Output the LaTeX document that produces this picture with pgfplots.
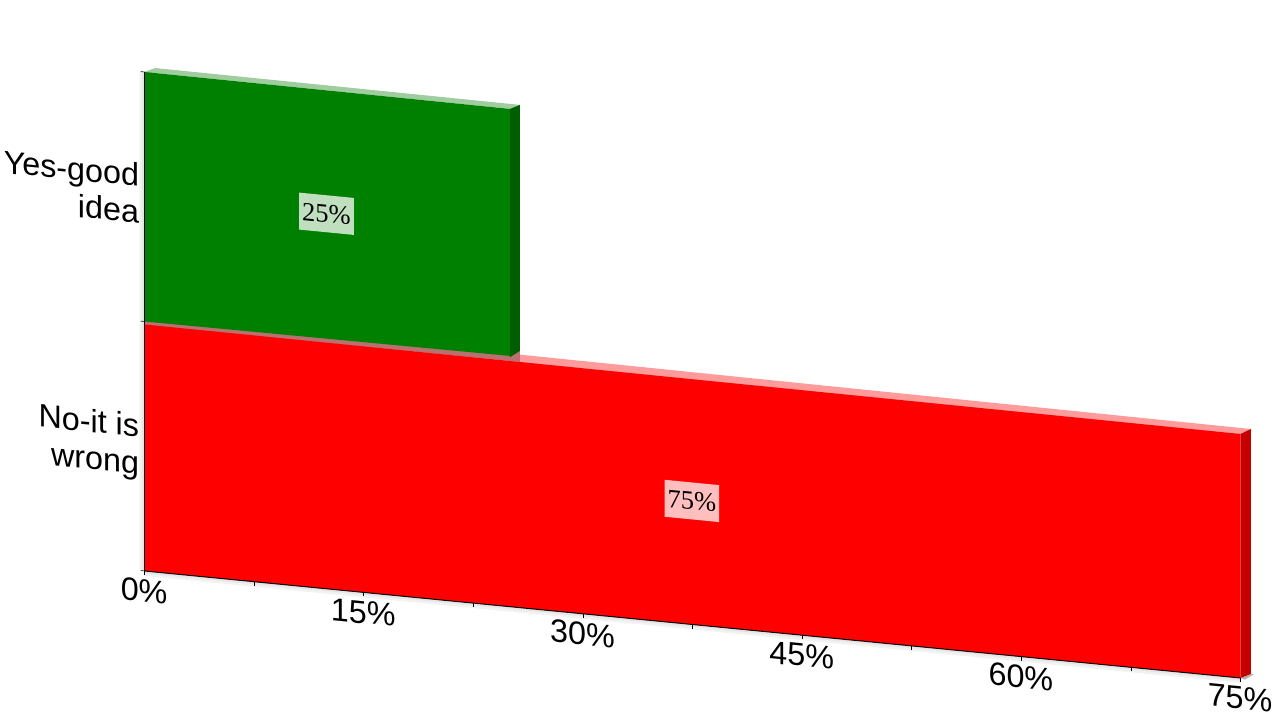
\documentclass[border=0pt]{standalone}
\usepackage{fontspec}
\setmainfont{Liberation Sans}
\newfontfamily\serifl{Liberation Serif}
\usepackage{pgfplots}
\pgfplotsset{compat=1.18}
\definecolor{gfront}{RGB}{0,128,0}
\definecolor{gside}{RGB}{0,94,0}
\definecolor{gtop}{RGB}{160,205,160}
\definecolor{rfront}{RGB}{255,0,0}
\definecolor{rside}{RGB}{196,0,0}
\definecolor{rtop}{RGB}{255,155,155}
\newsavebox\shearbox
\newcommand\shear[1]{\sbox\shearbox{#1}\hbox to \wd\shearbox{\hskip.5\wd\shearbox\special{pdf:btrans matrix 1 -0.0976 0 1 0 0}\hskip-.5\wd\shearbox\usebox\shearbox\special{pdf:etrans}}}
\newcommand\tworows[2]{\begin{tabular}[c]{@{}r@{}}#1\\#2\end{tabular}}
\begin{document}
\begin{tikzpicture}
\path[use as bounding box] (0,0) rectangle (1280pt,720pt);
\begin{axis}[
  at={(144.6pt,149pt)}, anchor=origin,
  x={(14.613pt,-1.4267pt)}, y={(0pt,249.5pt)},
  xmin=0, xmax=75, ymin=0, ymax=2,
  clip=false, axis lines*=left,
  axis line style={black, line width=1pt},
  tick style={black, line width=0.6pt},
  tick align=outside, major tick length=4pt, minor tick length=4pt,
  xtick={0,15,30,45,60,75},
  xticklabels={\shear{0\%},\shear{15\%},\shear{30\%},\shear{45\%},\shear{60\%},\shear{75\%}},
  minor xtick={7.5,22.5,37.5,52.5,67.5},
  ytick={0,1,2}, yticklabels={},
  extra y ticks={0.513,1.524},
  extra y tick labels={{\shear{\tworows{No-it is}{wrong}}},{\shear{\tworows{Yes-good}{idea}}}},
  extra y tick style={major tick length=0pt},
  every tick label/.append style={font=\fontsize{32.3}{37}\selectfont},
  xticklabel style={anchor=center, yshift=-16pt, xshift=-0.5pt},
  yticklabel style={anchor=east, xshift=-2pt},
  axis on top,
]
% soft shadows
\addplot[fill=black, fill opacity=0.05, draw=none] coordinates {(-0.35,0)(0,0)(0,2)(-0.35,2)} -- cycle;
\addplot[fill=black, fill opacity=0.05, draw=none] coordinates {(0,0)(75,0)(75,-0.02)(0,-0.02)} -- cycle;
\addplot[fill=black, fill opacity=0.05, draw=none] coordinates {(-0.18,0)(0,0)(0,2)(-0.18,2)} -- cycle;
\addplot[fill=black, fill opacity=0.05, draw=none] coordinates {(0,0)(75,0)(75,-0.01)(0,-0.01)} -- cycle;
% wall edges
\addplot[fill=black!30, draw=none] coordinates {(0,2)(0.75,2.02)(0.75,2.005)(0.05,1.992)} -- cycle;
\addplot[fill=black!30, draw=none] coordinates {(75,0)(75.7,0.02)(75.9,0.02)(75.3,-0.005)} -- cycle;
% red bar
\addplot[fill=rtop, draw=none] coordinates {(0,0.985)(75,0.975)(75.7,1.002)(0.75,1.02)} -- cycle;
\addplot[fill=black!28!rtop, draw=none] coordinates {(0,0.985)(25.68,0.985)(25.68,1.03)(0,1.02)} -- cycle;
\addplot[fill=rside, draw=none] coordinates {(75,0)(75.7,0.02)(75.7,1.002)(75,0.978)} -- cycle;
\addplot[fill=rfront, draw=none] coordinates {(0,0)(75,0)(75,0.978)(0,0.988)} -- cycle;
% green bar
\addplot[fill=gtop, draw=none] coordinates {(0,2)(25,1.995)(25.68,2.015)(0.75,2.02)} -- cycle;
\addplot[fill=gside, draw=none] coordinates {(25,1)(25.68,1.029)(25.68,2.015)(25,1.995)} -- cycle;
\addplot[fill=gfront, draw=none] coordinates {(0,1)(25,1.005)(25,1.995)(0,2)} -- cycle;
% data labels
\begin{scope}[shift={(axis cs:12.45,1.503)}, yslant=-0.0976]
\node[transform shape, fill=white, fill opacity=0.75, text opacity=1, inner xsep=3pt, inner ysep=9.5pt, font=\serifl\fontsize{26.5}{30}\selectfont] {25\%};
\end{scope}
\begin{scope}[shift={(axis cs:37.45,0.495)}, yslant=-0.0976]
\node[transform shape, fill=white, fill opacity=0.75, text opacity=1, inner xsep=3pt, inner ysep=9.5pt, font=\serifl\fontsize{26.5}{30}\selectfont] {75\%};
\end{scope}
\end{axis}
\end{tikzpicture}
\end{document}
